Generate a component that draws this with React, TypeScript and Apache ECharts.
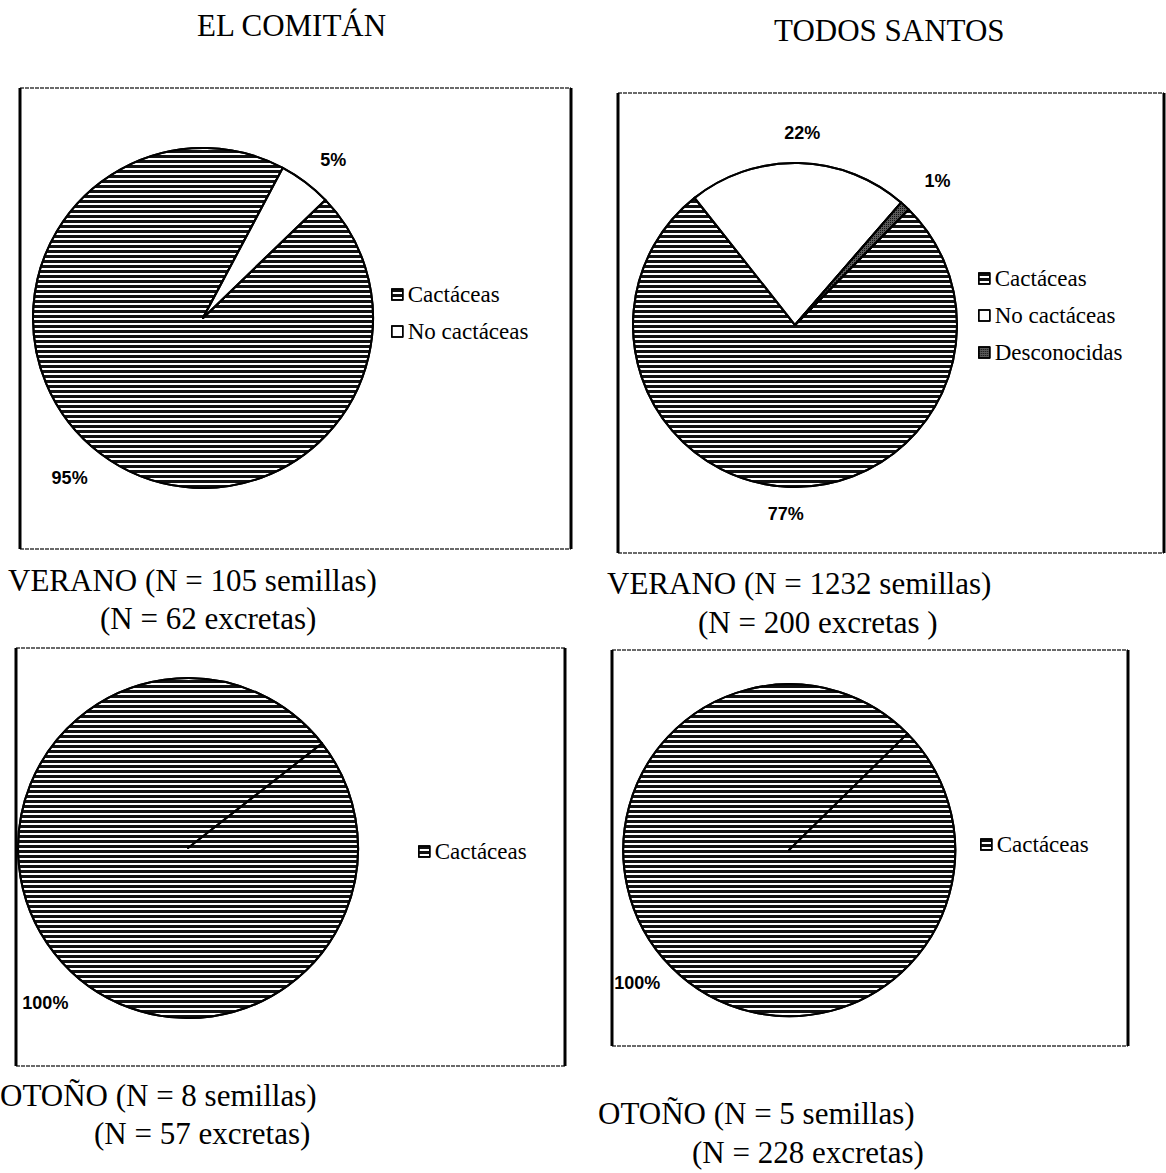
import React, { useEffect, useRef } from 'react';
import * as echarts from 'echarts';

const titleLeft = 'EL COMITÁN';
const titleRight = 'TODOS SANTOS';

const veranoComitanNames = ['Cactáceas', 'No cactáceas'];
const veranoComitanValues = [95, 5];
const veranoTodosNames = ['Cactáceas', 'No cactáceas', 'Desconocidas'];
const veranoTodosValues = [77, 22, 1];
const otonoComitanNames = ['Cactáceas'];
const otonoComitanValues = [100];
const otonoTodosNames = ['Cactáceas'];
const otonoTodosValues = [100];

const captionVeranoComitan = ['VERANO (N = 105 semillas)', '(N = 62 excretas)'];
const captionVeranoTodos = ['VERANO (N = 1232 semillas)', '(N = 200 excretas )'];
const captionOtonoComitan = ['OTOÑO (N = 8 semillas)', '(N = 57 excretas)'];
const captionOtonoTodos = ['OTOÑO (N = 5 semillas)', '(N = 228 excretas)'];

const hatchStyle = {
  color: '#ffffff',
  borderColor: '#000',
  borderWidth: 2,
  decal: {
    symbol: 'rect',
    symbolSize: 1,
    dashArrayX: [[1, 0]],
    dashArrayY: [2.5, 1.5],
    rotation: 0,
    color: '#111',
  },
};
const whiteStyle = { color: '#ffffff', borderColor: '#000', borderWidth: 2, decal: { symbol: 'none' } };
const darkStyle = {
  color: '#5a5a5a',
  borderColor: '#000',
  borderWidth: 2,
  decal: {
    symbol: 'rect',
    symbolSize: 1,
    dashArrayX: [[1, 1]],
    dashArrayY: [1, 1],
    rotation: 0,
    color: '#111',
  },
};
const styleFor: Record<string, any> = {
  'Cactáceas': hatchStyle,
  'No cactáceas': whiteStyle,
  'Desconocidas': darkStyle,
};

const serif = 'Liberation Serif, Times New Roman, serif';
const sans = 'Liberation Sans, Arial, sans-serif';

function pieData(names: string[], values: number[], edgeMarker: boolean) {
  const d: any[] = names.map((n, i) => ({ name: n, value: values[i], itemStyle: styleFor[n] }));
  if (edgeMarker) {
    d.push({
      name: '',
      value: 0,
      itemStyle: { color: 'rgba(0,0,0,0)', borderColor: '#000', borderWidth: 2, decal: { symbol: 'none' } },
      label: { show: false },
    });
  }
  return d;
}

function pieSeries(
  names: string[],
  values: number[],
  center: number[],
  radius: number,
  startAngle: number,
  edgeMarker: boolean,
  labelLen: number,
  labelShift: number[][],
) {
  return {
    type: 'pie',
    center,
    radius,
    startAngle,
    clockwise: true,
    silent: true,
    avoidLabelOverlap: false,
    percentPrecision: 0,
    data: pieData(names, values, edgeMarker),
    label: {
      show: true,
      position: 'outside',
      formatter: '{d}%',
      fontFamily: sans,
      fontWeight: 'bold',
      fontSize: 18,
      color: '#000',
      distanceToLabelLine: 0,
    },
    labelLine: { show: false, length: labelLen, length2: 0 },
    labelLayout: (p: any) => {
      const s = labelShift[p.dataIndex] || [0, 0];
      return { dx: s[0], dy: s[1] };
    },
    emphasis: { disabled: true },
  };
}

function legend(names: string[], left: number, top: number, gap: number) {
  return {
    orient: 'vertical',
    left,
    top,
    padding: 0,
    data: names,
    icon: 'rect',
    itemWidth: 11,
    itemHeight: 11,
    itemGap: gap,
    selectedMode: false,
    itemStyle: { borderColor: '#000', borderWidth: 1.5 },
    textStyle: { fontFamily: serif, fontSize: 23, color: '#000' },
  };
}

function box(x1: number, y1: number, x2: number, y2: number) {
  const gray = { stroke: '#6a6a6a', lineWidth: 2, lineDash: [4, 1] };
  const black = { stroke: '#000', lineWidth: 3 };
  return [
    { type: 'line', shape: { x1, y1, x2, y2: y1 }, style: gray, silent: true },
    { type: 'line', shape: { x1, y1: y2, x2, y2 }, style: gray, silent: true },
    { type: 'line', shape: { x1, y1, x2: x1, y2 }, style: black, silent: true },
    { type: 'line', shape: { x1: x2, y1, x2, y2 }, style: black, silent: true },
  ];
}

function txt(text: string, x: number, y: number) {
  return {
    type: 'text',
    x,
    y,
    silent: true,
    style: { text, fill: '#000', font: `31px ${serif}`, textAlign: 'left', textVerticalAlign: 'middle' },
  };
}

export default function App() {
  const ref = useRef<HTMLDivElement>(null);
  useEffect(() => {
    const chart = echarts.init(ref.current!, null, { renderer: 'svg' });
    chart.setOption({
      animation: false,
      backgroundColor: '#fff',
      legend: [
        legend(veranoComitanNames, 391, 283, 14),
        legend(veranoTodosNames, 978, 267, 14),
        legend(otonoComitanNames, 418, 840, 14),
        legend(otonoTodosNames, 980, 833, 14),
      ],
      series: [
        pieSeries(veranoComitanNames, veranoComitanValues, [203, 318], 170, 44, false, 30, [[5, 0], [-3, 2]]),
        pieSeries(veranoTodosNames, veranoTodosValues, [795, 325], 162, 45.5, false, 26, [[19, 1], [-15, -4], [2, -6]]),
        pieSeries(otonoComitanNames, otonoComitanValues, [188, 848], 170, 38, true, 30, [[38, 32]]),
        pieSeries(otonoTodosNames, otonoTodosValues, [789, 850], 166, 44.5, true, 30, [[11, -4]]),
      ],
      graphic: [
        ...box(20, 88, 571, 549),
        ...box(618, 93, 1164, 553),
        ...box(16, 648, 565, 1066),
        ...box(612, 650, 1128, 1046),
        txt(titleLeft, 197, 25),
        txt(titleRight, 774, 30),
        txt(captionVeranoComitan[0], 8, 580),
        txt(captionVeranoComitan[1], 100, 618),
        txt(captionVeranoTodos[0], 607, 583),
        txt(captionVeranoTodos[1], 698, 622),
        txt(captionOtonoComitan[0], 0, 1095),
        txt(captionOtonoComitan[1], 94, 1133),
        txt(captionOtonoTodos[0], 598, 1113),
        txt(captionOtonoTodos[1], 692, 1152),
      ],
    });
    return () => chart.dispose();
  }, []);
  return (
    <div
      ref={ref}
      style={{ position: 'absolute', left: 0, top: 0, width: 1166, height: 1173, background: '#fff' }}
    />
  );
}
